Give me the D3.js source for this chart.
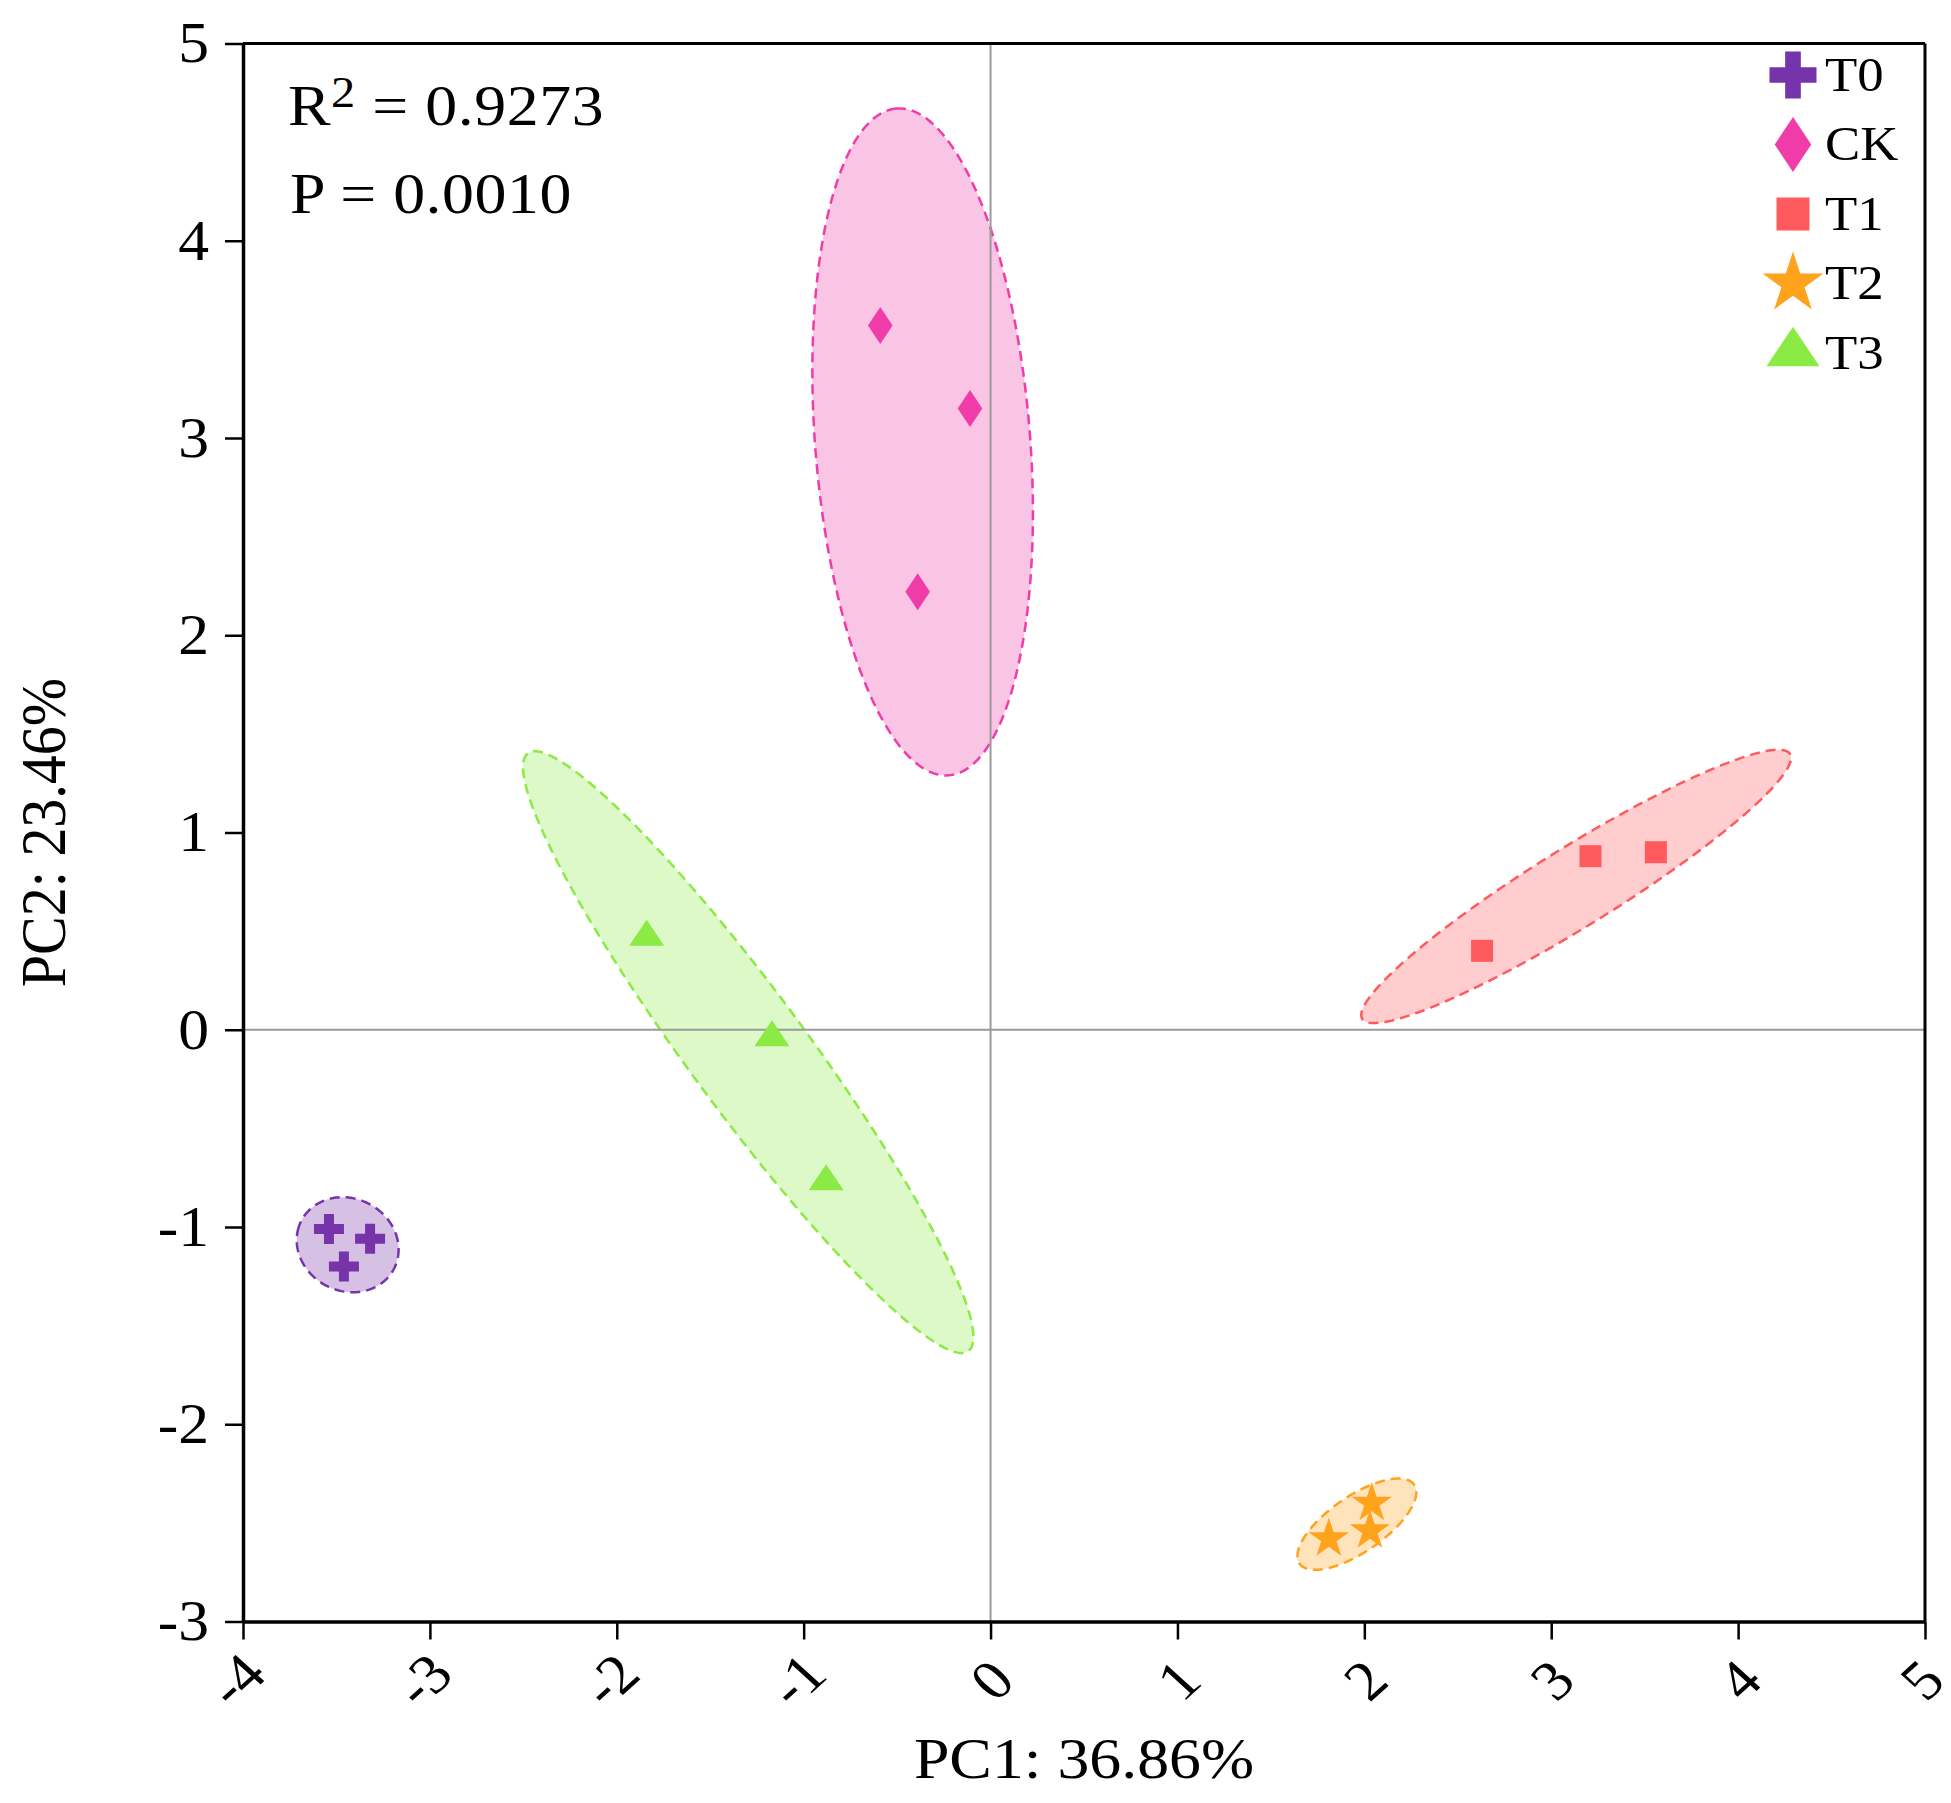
<!DOCTYPE html>
<html>
<head>
<meta charset="utf-8">
<script src="https://cdn.jsdelivr.net/npm/d3@7"></script>
<style>
  body { margin: 0; background: #fff; }
  text { font-family: "Liberation Serif", "Times New Roman", serif; fill: #000; }
</style>
</head>
<body>
<div class="container"></div>
<script>
// PCA scores, three samples per group
var groups = ["T0", "CK", "T1", "T2", "T3"];
var pc1T0 = [-3.54, -3.32, -3.46];
var pc2T0 = [-1.01, -1.06, -1.20];
var pc1CK = [-0.59, -0.11, -0.39];
var pc2CK = [3.57, 3.15, 2.22];
var pc1T1 = [2.63, 3.21, 3.56];
var pc2T1 = [0.40, 0.88, 0.90];
var pc1T2 = [1.81, 2.04, 2.03];
var pc2T2 = [-2.58, -2.40, -2.54];
var pc1T3 = [-1.84, -1.17, -0.88];
var pc2T3 = [0.47, -0.04, -0.77];

var xTicks = [-4, -3, -2, -1, 0, 1, 2, 3, 4, 5];
var yTicks = [-3, -2, -1, 0, 1, 2, 3, 4, 5];
var xTitle = "PC1: 36.86%";
var yTitle = "PC2: 23.46%";
var rSquared = "0.9273";
var pValue = "0.0010";

var colors = ["#7633aa", "#f03ca8", "#ff5a5e", "#ffa21c", "#8bea44"];

const WIDTH = 1951;
const HEIGHT = 1803;
const LEFT = 243;
const RIGHT = 1925;
const TOP = 43.5;
const BOTTOM = 1621.5;
const CHI2 = 5.991;   // 95% confidence, 2 df
const STRETCH = "scale(1.1,1)";

var pcX = [pc1T0, pc1CK, pc1T1, pc1T2, pc1T3];
var pcY = [pc2T0, pc2CK, pc2T1, pc2T2, pc2T3];

var shapes = [d3.symbolCross, d3.symbolDiamond, d3.symbolSquare, d3.symbolStar, d3.symbolTriangle];
var plotSizes = [500, 395, 484, 500, 530];
var legendSizes = [1227, 873, 1089, 1150, 1216];
var shapeScale = ["", " scale(1.15,1)", "", "", " scale(1,0.86)"];

var translate = function (x, y) {
  return "translate(" + x + "," + y + ")";
};

var svg = d3.select('.container').append('svg')
  .attr('width', WIDTH)
  .attr('height', HEIGHT);

var xScale = d3.scaleLinear().domain([-4, 5]).range([LEFT, RIGHT]);
var yScale = d3.scaleLinear().domain([-3, 5]).range([BOTTOM, TOP]);

var ellipsePath = function (xs, ys) {
  var n = xs.length;
  var mx = d3.mean(xs), my = d3.mean(ys);
  var sxx = 0, syy = 0, sxy = 0;
  for (var i = 0; i < n; i++) {
    var dx = xs[i] - mx, dy = ys[i] - my;
    sxx += dx * dx; syy += dy * dy; sxy += dx * dy;
  }
  sxx /= n - 1; syy /= n - 1; sxy /= n - 1;
  var tr = sxx + syy, det = sxx * syy - sxy * sxy;
  var disc = Math.sqrt(Math.max(tr * tr / 4 - det, 0));
  var l1 = tr / 2 + disc, l2 = tr / 2 - disc;
  var theta = Math.atan2(l1 - sxx, sxy);
  var a = Math.sqrt(CHI2 * l1), b = Math.sqrt(CHI2 * Math.max(l2, 0));
  var pts = d3.range(0, 360, 2).map(function (deg) {
    var t = deg * Math.PI / 180;
    return [mx + a * Math.cos(t) * Math.cos(theta) - b * Math.sin(t) * Math.sin(theta),
            my + a * Math.cos(t) * Math.sin(theta) + b * Math.sin(t) * Math.cos(theta)];
  });
  return d3.line()
    .x(function (p) { return xScale(p[0]); })
    .y(function (p) { return yScale(p[1]); })
    .curve(d3.curveLinearClosed)(pts);
};

// confidence ellipses
groups.forEach(function (g, i) {
  svg.append('path')
    .attr('d', ellipsePath(pcX[i], pcY[i]))
    .attr('fill', colors[i])
    .attr('fill-opacity', 0.3)
    .attr('stroke', colors[i])
    .attr('stroke-width', 2.5)
    .attr('stroke-dasharray', '10,6');
});

// zero lines
svg.append('line')
  .attr('x1', xScale(0)).attr('x2', xScale(0))
  .attr('y1', TOP).attr('y2', BOTTOM)
  .attr('stroke', '#9a9a9a').attr('stroke-width', 2);
svg.append('line')
  .attr('x1', LEFT).attr('x2', RIGHT)
  .attr('y1', yScale(0)).attr('y2', yScale(0))
  .attr('stroke', '#9a9a9a').attr('stroke-width', 2);

// points
groups.forEach(function (g, i) {
  svg.append('g').selectAll('path')
    .data(pcX[i].map(function (v, j) { return [v, pcY[i][j]]; }))
    .enter().append('path')
    .attr('d', d3.symbol().type(shapes[i]).size(plotSizes[i]))
    .attr('transform', function (d) { return translate(xScale(d[0]), yScale(d[1])) + shapeScale[i]; })
    .attr('fill', colors[i]);
});

// frame
svg.append('line').attr('x1', LEFT).attr('x2', RIGHT).attr('y1', TOP).attr('y2', TOP)
  .attr('stroke', '#000').attr('stroke-width', 3);
svg.append('line').attr('x1', RIGHT).attr('x2', RIGHT).attr('y1', TOP).attr('y2', BOTTOM)
  .attr('stroke', '#000').attr('stroke-width', 3);

var xAxis = d3.axisBottom(xScale).tickValues(xTicks).tickSize(18).tickSizeOuter(0)
  .tickFormat(function (d) { return String(d); });
var yAxis = d3.axisLeft(yScale).tickValues(yTicks).tickSize(18).tickSizeOuter(0)
  .tickFormat(function (d) { return String(d); });

var gx = svg.append('g').attr('transform', translate(0, BOTTOM)).call(xAxis);
var gy = svg.append('g').attr('transform', translate(LEFT, 0)).call(yAxis);

[gx, gy].forEach(function (ax) {
  ax.select('.domain').attr('stroke', '#000').attr('stroke-width', 3.5);
  ax.selectAll('.tick line').attr('stroke', '#000').attr('stroke-width', 2.5);
  ax.selectAll('.tick text')
    .style('font-family', '"Liberation Serif", "Times New Roman", serif')
    .attr('fill', '#000');
});

gx.selectAll('.tick text')
  .attr('x', 0).attr('y', 0).attr('dy', '0.35em')
  .attr('font-size', 56)
  .attr('text-anchor', 'middle')
  .attr('transform', function (d) {
    var shift = d < 0 ? -8 : (d === 5 ? -4 : 0);
    return translate(shift, 58) + ' ' + STRETCH + ' rotate(-45)';
  });

gy.selectAll('.tick text')
  .attr('x', 0).attr('dy', '0.33em')
  .attr('font-size', 56)
  .attr('text-anchor', 'end')
  .attr('transform', translate(-34, 0) + ' ' + STRETCH);

// axis titles
svg.append('text')
  .attr('transform', translate((LEFT + RIGHT) / 2, 1778) + ' ' + STRETCH)
  .attr('text-anchor', 'middle')
  .attr('font-size', 58)
  .text(xTitle);

svg.append('text')
  .attr('transform', translate(65, (TOP + BOTTOM) / 2) + ' ' + STRETCH + ' rotate(-90)')
  .attr('text-anchor', 'middle')
  .attr('font-size', 58)
  .text(yTitle);

// statistics
var r2 = svg.append('text')
  .attr('transform', translate(288, 125) + ' ' + STRETCH)
  .attr('font-size', 58)
  .attr('letter-spacing', 0.5);
r2.append('tspan').text('R');
r2.append('tspan').attr('font-size', 44).attr('dy', -18).text('2');
r2.append('tspan').attr('dy', 18).text(' = ' + rSquared);

svg.append('text')
  .attr('transform', translate(290, 213) + ' ' + STRETCH)
  .attr('font-size', 58)
  .attr('letter-spacing', 0.5)
  .text('P = ' + pValue);

// legend
var legend = svg.append('g');
groups.forEach(function (g, i) {
  var ly = 75 + i * 69.5;
  legend.append('path')
    .attr('d', d3.symbol().type(shapes[i]).size(legendSizes[i]))
    .attr('transform', translate(1793, ly) + shapeScale[i])
    .attr('fill', colors[i]);
  legend.append('text')
    .attr('transform', translate(1825, ly) + ' ' + STRETCH)
    .attr('dy', '0.33em')
    .attr('font-size', 48)
    .text(g);
});
</script>
</body>
</html>
